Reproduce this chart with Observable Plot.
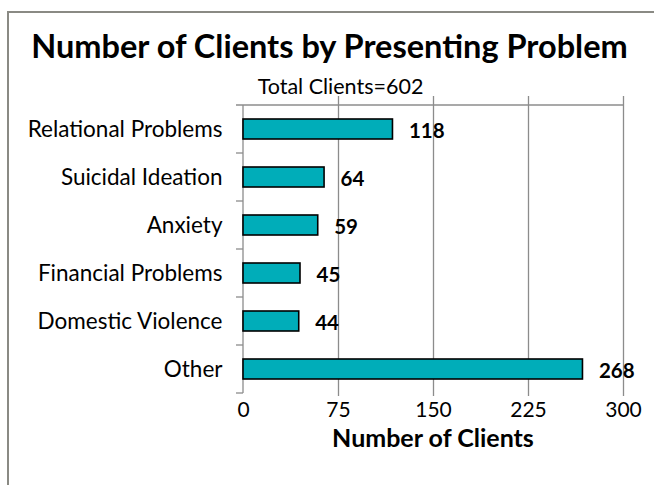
<!DOCTYPE html>
<html>
<head>
<meta charset="utf-8">
<script src="https://cdn.jsdelivr.net/npm/d3@7"></script>
<script src="https://cdn.jsdelivr.net/npm/@observablehq/plot@0.6"></script>
<style>
  html, body { margin: 0; padding: 0; background: #fff; overflow: hidden; }
  body { width: 654px; height: 485px; position: relative; font-family: Lato, "Open Sans", sans-serif; }
  #frame { position: absolute; left: 7px; top: 11px; width: 700px; height: 520px; border: 2px solid #8a8a84; box-sizing: border-box; }
  #title { position: absolute; left: 0; width: 659px; top: 26px; text-align: center; font-weight: bold; font-size: 32.5px; line-height: 40px; color: #000; white-space: nowrap; }
  #subtitle { position: absolute; left: 0; width: 681px; top: 73px; text-align: center; font-size: 21.5px; line-height: 26px; color: #000; white-space: nowrap; }
  #xlabel { position: absolute; left: 243px; width: 380px; top: 421px; text-align: center; font-weight: bold; font-size: 25px; line-height: 32px; color: #000; white-space: nowrap; }
  #chart { position: absolute; left: 0; top: 0; }
</style>
</head>
<body>
<div id="frame"></div>
<div id="chart"></div>
<div id="title">Number of Clients by Presenting Problem</div>
<div id="subtitle">Total Clients=602</div>
<div id="xlabel">Number of Clients</div>
<script>
const categories = ["Relational Problems", "Suicidal Ideation", "Anxiety", "Financial Problems", "Domestic Violence", "Other"];
const clients = [118, 64, 59, 45, 44, 268];
const xTicks = [0, 75, 150, 225, 300];

const data = categories.map((c, i) => ({category: c, clients: clients[i]}));

const gridColor = "#8c8c8c";

// decoration: top axis line + category boundary ticks, derived from scales
function boundaryTicks(index, scales, values, dimensions) {
  const y = scales.y;
  const step = y.step(), bw = y.bandwidth();
  const g = d3.create("svg:g").attr("stroke", gridColor).attr("stroke-width", 1.3);
  const x0 = dimensions.marginLeft;
  const x1 = dimensions.width - dimensions.marginRight;
  const bounds = categories.map(c => y(c) - (step - bw) / 2);
  bounds.push(y(categories[categories.length - 1]) + bw + (step - bw) / 2);
  bounds.forEach((b, i) => {
    g.append("line").attr("x1", x0 - 7).attr("x2", i === 0 ? x1 : x0).attr("y1", b).attr("y2", b);
  });
  g.append("line").attr("x1", x0).attr("x2", x0).attr("y1", bounds[0]).attr("y2", bounds[bounds.length - 1]);
  return g.node();
}

const plot = Plot.plot({
  width: 654,
  height: 485,
  marginLeft: 243,
  marginRight: 31,
  marginTop: 103,
  marginBottom: 89,
  style: {fontFamily: "Lato, 'Open Sans', sans-serif", fontSize: "22.5px", color: "#000", background: "transparent", overflow: "visible"},
  x: {domain: [0, 300], ticks: xTicks, tickSize: 0, tickPadding: 6, label: null},
  y: {domain: categories, paddingInner: 0.58, paddingOuter: 0.29, tickSize: 0, tickPadding: 21, label: null},
  marks: [
    Plot.ruleX(xTicks.filter(t => t > 0), {stroke: gridColor, strokeOpacity: 1, strokeWidth: 1.3, insetTop: -7}),
    boundaryTicks,
    Plot.barX(data, {x: "clients", y: "category", fill: "#00adb9", stroke: "#000", strokeWidth: 1.6}),
    Plot.text(data, {x: "clients", y: "category", text: d => String(d.clients), textAnchor: "start", dx: 16, dy: 2, fontWeight: "bold", fontSize: 20.5, fill: "#000"})
  ]
});
// x tick labels slightly smaller than the category labels
plot.querySelectorAll('g[aria-label^="x-axis"]').forEach(g => g.setAttribute("font-size", "21px"));
document.getElementById("chart").appendChild(plot);
</script>
</body>
</html>
